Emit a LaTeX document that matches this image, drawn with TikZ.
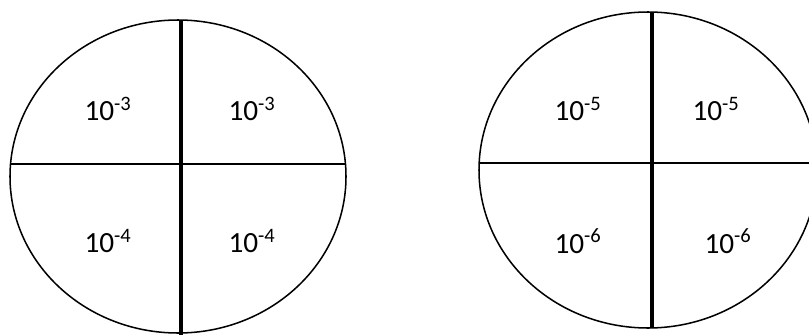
\documentclass[tikz,border=0pt]{standalone}
\usepackage{fontspec}
\setmainfont{Carlito}
\usepackage{xcolor}
\usetikzlibrary{positioning,calc}
\definecolor{ink}{HTML}{000000}
\tikzset{
  rim/.style={draw=ink,line width=1.3pt},
  vcut/.style={draw=ink,line width=2.8pt},
  hcut/.style={draw=ink,line width=2pt},
  rate/.style={font=\fontsize{25}{30}\selectfont,inner sep=0pt,text=ink}
}
\newcommand{\pw}[1]{10\textsuperscript{-#1}}
\begin{document}
\begin{tikzpicture}[x=0.03cm,y=-0.03cm]
      \useasboundingbox (0,0) rectangle (809,335);
      \clip (0,0) rectangle (809,335);
      % left disc
      \coordinate (lc) at (178,176.5);
      \draw[rim] (lc) ellipse [x radius=168,y radius=156.5];
      \coordinate (ltop) at (181,20);
      \coordinate (lbot) at (181,336);
      \coordinate (lwest) at (10.5,164);
      \coordinate (least) at (345.5,164);
      \draw[vcut] (ltop) -- (lbot);
      \draw[hcut] (lwest) -- (least);
      \node[rate] (lnw) at (108,109) {\pw{3}};
      \node[rate] (lne) at (252,109) {\pw{3}};
      \node[rate] (lsw) at (108,241) {\pw{4}};
      \node[rate] (lse) at (252,241) {\pw{4}};
      % right disc
      \coordinate (rc) at (648,170);
      \draw[rim] (rc) ellipse [x radius=169,y radius=158];
      \coordinate (rtop) at (652,12);
      \coordinate (rbot) at (652,328);
      \coordinate (rwest) at (479,163);
      \coordinate (reast) at (820,163);
      \draw[vcut] (rtop) -- (rbot);
      \draw[hcut] (rwest) -- (reast);
      \node[rate] (rnw) at (578,109) {\pw{5}};
      \node[rate] (rne) at (716,109) {\pw{5}};
      \node[rate] (rsw) at (578,241) {\pw{6}};
      \node[rate] (rse) at (728,241) {\pw{6}};
    \end{tikzpicture}
\end{document}
